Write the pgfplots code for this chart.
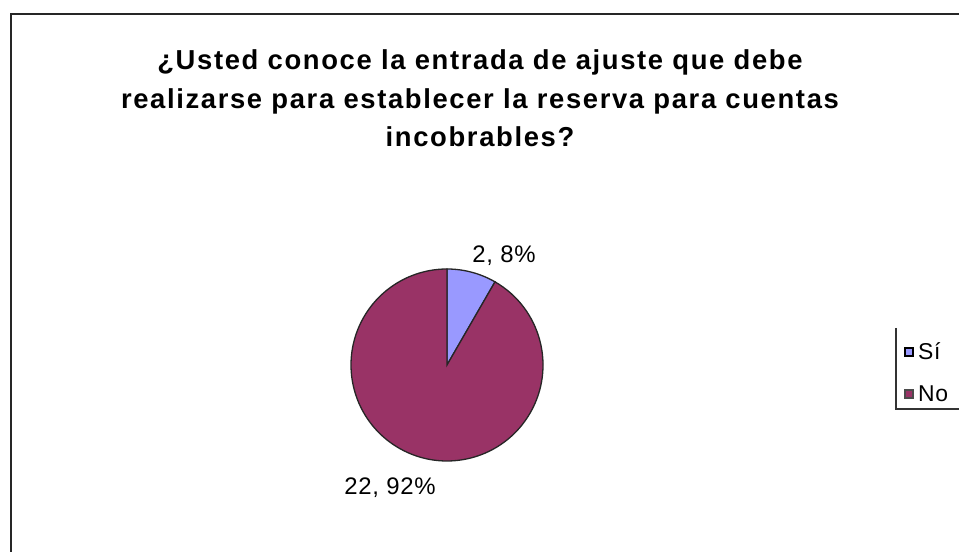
\documentclass[border=0pt]{standalone}
\usepackage{pgfplots}
\usepackage{pgfplotstable}
\pgfplotsset{compat=1.18}
\usepackage{fontspec}
\setmainfont{Liberation Sans}
\newfontfamily\titlefont[LetterSpace=6]{Liberation Sans}
\newfontfamily\labfont[LetterSpace=3]{Liberation Sans}
\definecolor{si}{HTML}{9999FF}
\definecolor{no}{HTML}{993366}
\pgfplotstableread{
label value
Si 2
No 22
}\piedata
\begin{document}
\begin{tikzpicture}[x=1bp,y=1bp]
\useasboundingbox (0,0) rectangle (959,552);
% outer frame (partly visible)
\draw[line width=2.2bp, black!85] (11,0) -- (11,538) -- (959,538);
% title
\begin{scope}[every node/.style={inner sep=0pt, anchor=base, font=\titlefont\bfseries\fontsize{27.5}{32}\selectfont}]
\node at (480,552-70) {¿Usted conoce la entrada de ajuste que debe};
\node at (480,552-108.5) {realizarse para establecer la reserva para cuentas};
\node at (480,552-147) {incobrables?};
\end{scope}
% data
\pgfplotstablegetelem{0}{value}\of\piedata \xdef\va{\pgfplotsretval}
\pgfplotstablegetelem{1}{value}\of\piedata \xdef\vb{\pgfplotsretval}
\pgfmathsetmacro\tot{\va+\vb}
\pgfmathsetmacro\aa{360*\va/\tot}
\pgfmathsetmacro\ab{360*\vb/\tot}
\xdef\aa{\aa}\xdef\ab{\ab}
\begin{axis}[at={(447bp,187bp)}, anchor=center, width=192bp, height=192bp,
  scale only axis, hide axis, xmin=-1, xmax=1, ymin=-1, ymax=1, clip=false]
\fill[si, draw=black!85, line width=1.3bp] (axis cs:0,0) -- ++(90:96bp)
  arc[start angle=90, delta angle=-\aa, radius=96bp] -- cycle;
\fill[no, draw=black!85, line width=1.3bp] (axis cs:0,0) -- ++(90-\aa:96bp)
  arc[start angle=90-\aa, delta angle=-\ab, radius=96bp] -- cycle;
\node[font=\labfont\fontsize{24}{28}\selectfont, inner sep=0pt] at (axis cs:0.594,1.135) {2, 8\%};
\node[font=\labfont\fontsize{24}{28}\selectfont, inner sep=0pt] at (axis cs:-0.594,-1.28) {22, 92\%};
\end{axis}
% legend (cut off at right)
\draw[line width=1.6bp, black!80] (896,552-328) -- (896,552-409) -- (959,552-409);
\draw[fill=si, draw=black, line width=1.2bp] (905,552-356) rectangle (913,552-348);
\draw[fill=no, draw=black!70, line width=1.2bp] (905,552-398) rectangle (913,552-390);
\node[font=\labfont\fontsize{23}{26}\selectfont, inner sep=0pt, anchor=base west] at (918,552-360) {Sí};
\node[font=\labfont\fontsize{23}{26}\selectfont, inner sep=0pt, anchor=base west] at (918,552-402) {No};
\end{tikzpicture}
\end{document}
